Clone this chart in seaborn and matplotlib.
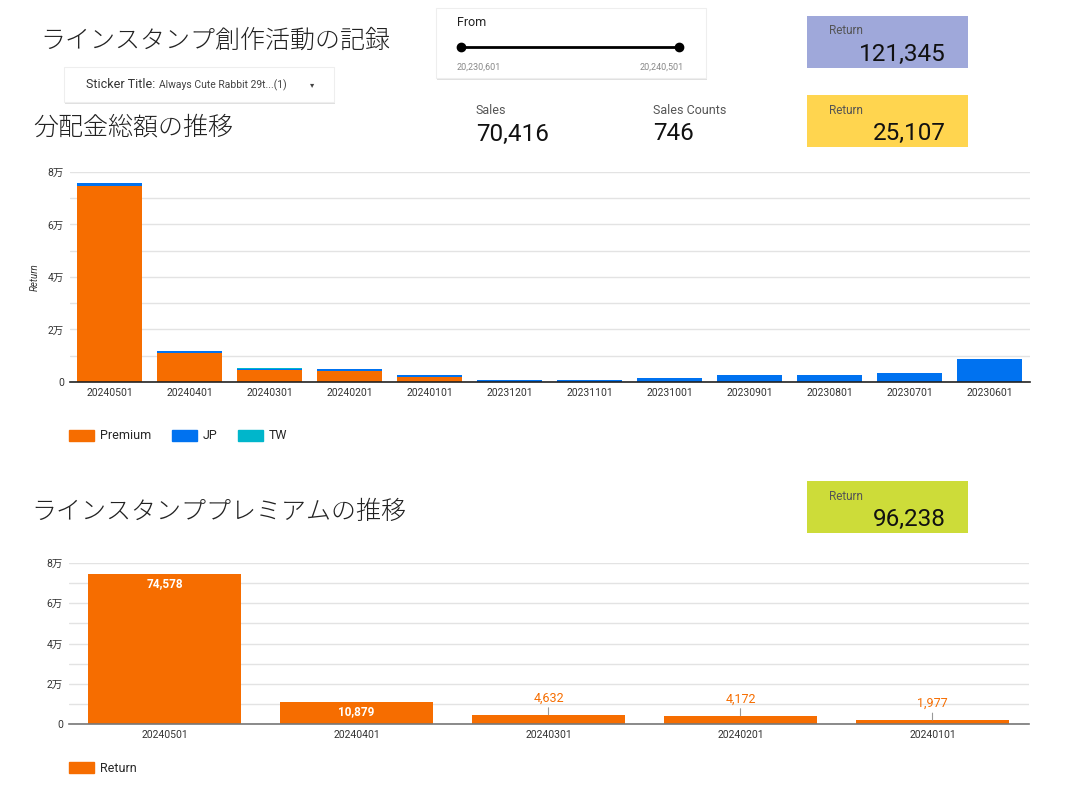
import matplotlib
matplotlib.use("Agg")
import matplotlib.pyplot as plt
import seaborn as sns
from matplotlib.patches import Rectangle, Patch
from matplotlib.ticker import FuncFormatter

# ==========================================
# Data
# ==========================================
months = ["20240501", "20240401", "20240301", "20240201", "20240101", "20231201",
          "20231101", "20231001", "20230901", "20230801", "20230701", "20230601"]
premium = [74578, 10879, 4632, 4172, 1977, 0, 0, 0, 0, 0, 0, 0]
jp = [1300, 800, 450, 750, 600, 850, 950, 1500, 2650, 2600, 3500, 8857]
tw = [0, 0, 300, 0, 0, 0, 0, 0, 0, 0, 0, 0]

premium_months = ["20240501", "20240401", "20240301", "20240201", "20240101"]
premium_return = [74578, 10879, 4632, 4172, 1977]

total_return = "121,345"
jp_tw_return = "25,107"
premium_total = "96,238"
sales = "70,416"
sales_counts = "746"
slider_from = "20,230,601"
slider_to = "20,240,501"

ORANGE = "#f66d00"
BLUE = "#0072f0"
CYAN = "#00b6cb"

sns.set_theme(style="white")
plt.rcParams["font.family"] = ["Roboto", "Noto Sans CJK JP", "DejaVu Sans"]
JP_FONT = ["Noto Sans CJK JP", "DejaVu Sans"]

W, H = 1067, 799
fig = plt.figure(figsize=(W / 100, H / 100), dpi=100)

# pixel-coordinate overlay for the dashboard widgets
bg = fig.add_axes([0, 0, 1, 1])
bg.set_xlim(0, W)
bg.set_ylim(H, 0)
bg.axis("off")


def card(x0, y0, x1, y1):
    bg.add_patch(Rectangle((x0 + 1, y0 + 2), x1 - x0, y1 - y0, color="#000000", alpha=0.12, lw=0))
    bg.add_patch(Rectangle((x0, y0), x1 - x0, y1 - y0, facecolor="white", edgecolor="#eeeeee", lw=0.8))


def scorecard(y0, color, value):
    bg.add_patch(Rectangle((807, y0), 161, 52, color=color, lw=0))
    bg.text(829, y0 + 15, "Return", fontsize=8.5, color="#555555", va="center")
    bg.text(946, y0 + 38, value, fontsize=17.5, color="#111111", va="center", ha="right")


# titles
for x, y, s in [(40, 41, "ラインスタンプ創作活動の記録"), (33, 127, "分配金総額の推移"),
                (31, 512, "ラインスタンププレミアムの推移")]:
    bg.text(x, y, s, fontsize=18, family=JP_FONT, fontweight="light", va="center", color="#222222")

# filter control
card(64, 67, 334, 102)
bg.text(86, 85, "Sticker Title:", fontsize=9, color="#333333", va="center")
bg.text(159, 85, "Always Cute Rabbit 29t...(1)", fontsize=7.5, color="#444444", va="center")
bg.text(310, 85, "▾", fontsize=6, color="#444444", va="center", family=["DejaVu Sans"])

# slider control
card(436, 8, 706, 78)
bg.text(457, 23, "From", fontsize=9, color="#222222", va="center")
bg.plot([461, 679], [47, 47], color="black", lw=2)
bg.plot([461, 679], [47, 47], "o", color="black", ms=6)
bg.text(457, 67, slider_from, fontsize=6.5, color="#888888", va="center")
bg.text(684, 67, slider_to, fontsize=6.5, color="#888888", va="center", ha="right")

# scorecards
scorecard(16, "#9fa8da", total_return)
scorecard(95, "#ffd54f", jp_tw_return)
scorecard(481, "#cddc39", premium_total)

bg.text(476, 110, "Sales", fontsize=9, color="#555555", va="center")
bg.text(476, 134, sales, fontsize=17.5, color="#111111", va="center")
bg.text(653, 110, "Sales Counts", fontsize=9, color="#555555", va="center")
bg.text(653, 134, sales_counts, fontsize=17.5, color="#111111", va="center")


def man_fmt(v, pos):
    if v == 0:
        return "0"
    if v % 20000 == 0:
        return f"{int(v / 10000)}万"
    return ""


def style_axis(ax, base_color):
    sns.despine(ax=ax, left=True)
    ax.spines["bottom"].set_color(base_color)
    ax.spines["bottom"].set_linewidth(1.2)
    ax.set_ylim(0, 80000)
    ax.set_yticks(range(0, 80001, 10000))
    ax.yaxis.set_major_formatter(FuncFormatter(man_fmt))
    ax.grid(axis="y", color="#e3e3e3", lw=1)
    ax.set_axisbelow(True)
    ax.tick_params(axis="both", length=0, labelsize=7.5, colors="#333333", pad=4)
    ax.set_xlabel("")


# ==========================================
# 分配金総額の推移 (stacked)
# ==========================================
ax1 = fig.add_axes([69.5 / W, 1 - 382 / H, 960 / W, 210 / H])
stack_top = [p + j + t for p, j, t in zip(premium, jp, tw)]
stack_mid = [p + j for p, j in zip(premium, jp)]
sns.barplot(x=months, y=stack_top, order=months, color=CYAN, saturation=1, width=0.81, linewidth=0, ax=ax1)
sns.barplot(x=months, y=stack_mid, order=months, color=BLUE, saturation=1, width=0.81, linewidth=0, ax=ax1)
sns.barplot(x=months, y=premium, order=months, color=ORANGE, saturation=1, width=0.81, linewidth=0, ax=ax1)
style_axis(ax1, "#222222")
ax1.set_ylabel("Return", fontsize=7, style="italic", color="#333333", labelpad=6)

ax1.legend(
    handles=[Patch(color=ORANGE, label="Premium"), Patch(color=BLUE, label="JP"), Patch(color=CYAN, label="TW")],
    loc="center left", bbox_to_anchor=(69 / W, 1 - 436 / H), bbox_transform=fig.transFigure,
    ncol=3, frameon=False, fontsize=9, handlelength=2.0, handleheight=1.0,
    handletextpad=0.5, columnspacing=1.6, borderpad=0, borderaxespad=0,
)

# ==========================================
# ラインスタンププレミアムの推移
# ==========================================
ax2 = fig.add_axes([68.5 / W, 1 - 724 / H, 960 / W, 161 / H])
sns.barplot(x=premium_months, y=premium_return, order=premium_months, color=ORANGE,
            saturation=1, width=0.8, linewidth=0, ax=ax2)
style_axis(ax2, "#777777")
ax2.set_ylabel("")

for i, v in enumerate(premium_return):
    label = f"{v:,}"
    if v > 10000:
        ax2.annotate(label, xy=(i, v), xytext=(0, -7), textcoords="offset points",
                     ha="center", va="center", fontsize=8.5, fontweight="bold", color="white")
    else:
        ax2.annotate(label, xy=(i, v), xytext=(0, 12), textcoords="offset points",
                     ha="center", va="center", fontsize=9, color=ORANGE,
                     arrowprops=dict(arrowstyle="-", color="#999999", lw=0.8, shrinkA=5, shrinkB=0))

ax2.legend(
    handles=[Patch(color=ORANGE, label="Return")],
    loc="center left", bbox_to_anchor=(69 / W, 1 - 768 / H), bbox_transform=fig.transFigure,
    frameon=False, fontsize=9, handlelength=2.0, handleheight=1.0,
    handletextpad=0.5, borderpad=0, borderaxespad=0,
)

plt.savefig("out.png", dpi=100)
